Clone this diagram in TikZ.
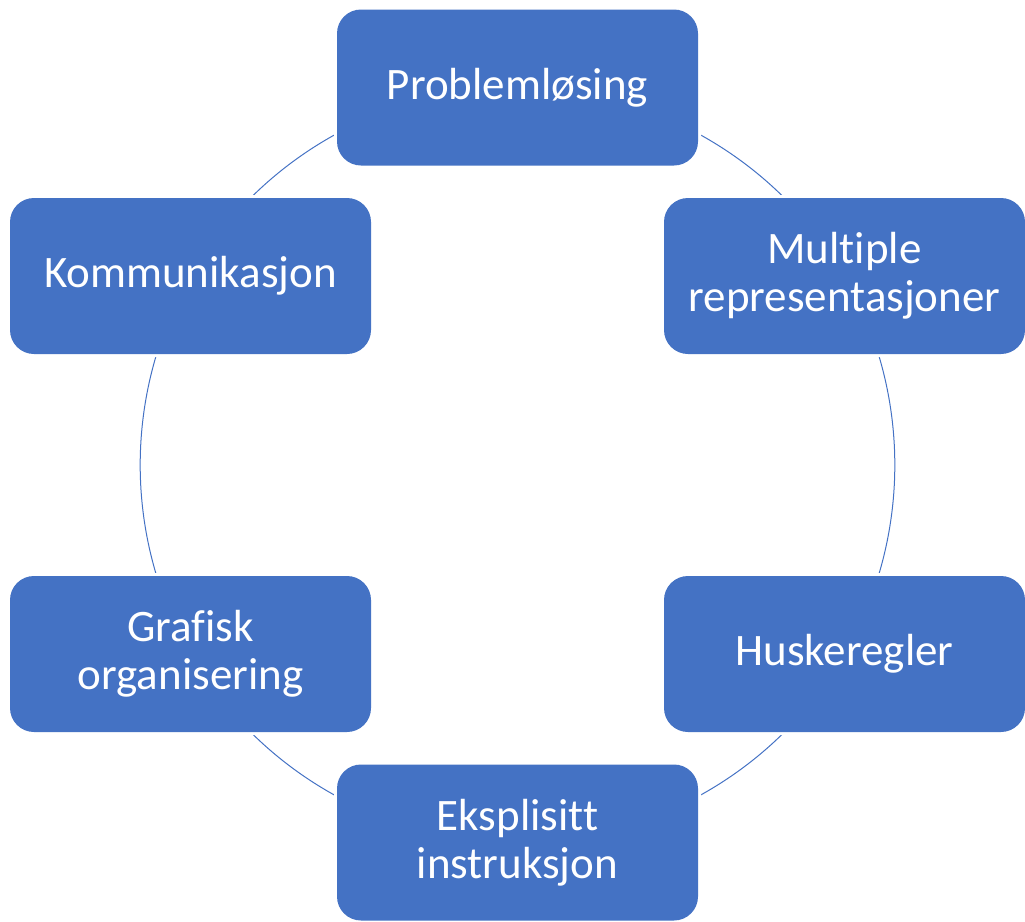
\documentclass[tikz,border=0pt]{standalone}
\usepackage{fontspec}
\setmainfont[Ligatures=NoCommon]{Carlito}
\usetikzlibrary{backgrounds}
\definecolor{boxblue}{HTML}{4472C4}
\tikzset{
  stepbox/.style={
    rectangle, rounded corners=24pt, fill=boxblue, text=white,
    minimum width=361pt, minimum height=156pt, inner sep=0pt,
    align=center, font=\fontsize{45pt}{48pt}\selectfont,
    preaction={draw=white, line width=6pt}
  },
  ring/.style={draw=boxblue, line width=1pt, bend right=30, looseness=0.91}
}
\begin{document}
\begin{tikzpicture}[x=1pt, y=-1pt]
  \useasboundingbox (0,0) rectangle (1025,921);
  \node[stepbox] (prob) at (517.5,87.5)  {Problemløsing};
  \node[stepbox] (komm) at (190.5,276)   {Kommunikasjon};
  \node[stepbox] (graf) at (190.5,654)   {Grafisk\\organisering};
  \node[stepbox] (eksp) at (517.5,842.5) {Eksplisitt\\instruksjon};
  \node[stepbox] (husk) at (844.5,654)   {Huskeregler};
  \node[stepbox] (mult) at (844.5,276)   {Multiple\\representasjoner};
  \begin{scope}[on background layer]
    \draw[ring] (prob.center) to (komm.center);
    \draw[ring] (komm.center) to (graf.center);
    \draw[ring] (graf.center) to (eksp.center);
    \draw[ring] (eksp.center) to (husk.center);
    \draw[ring] (husk.center) to (mult.center);
    \draw[ring] (mult.center) to (prob.center);
  \end{scope}
\end{tikzpicture}
\end{document}
